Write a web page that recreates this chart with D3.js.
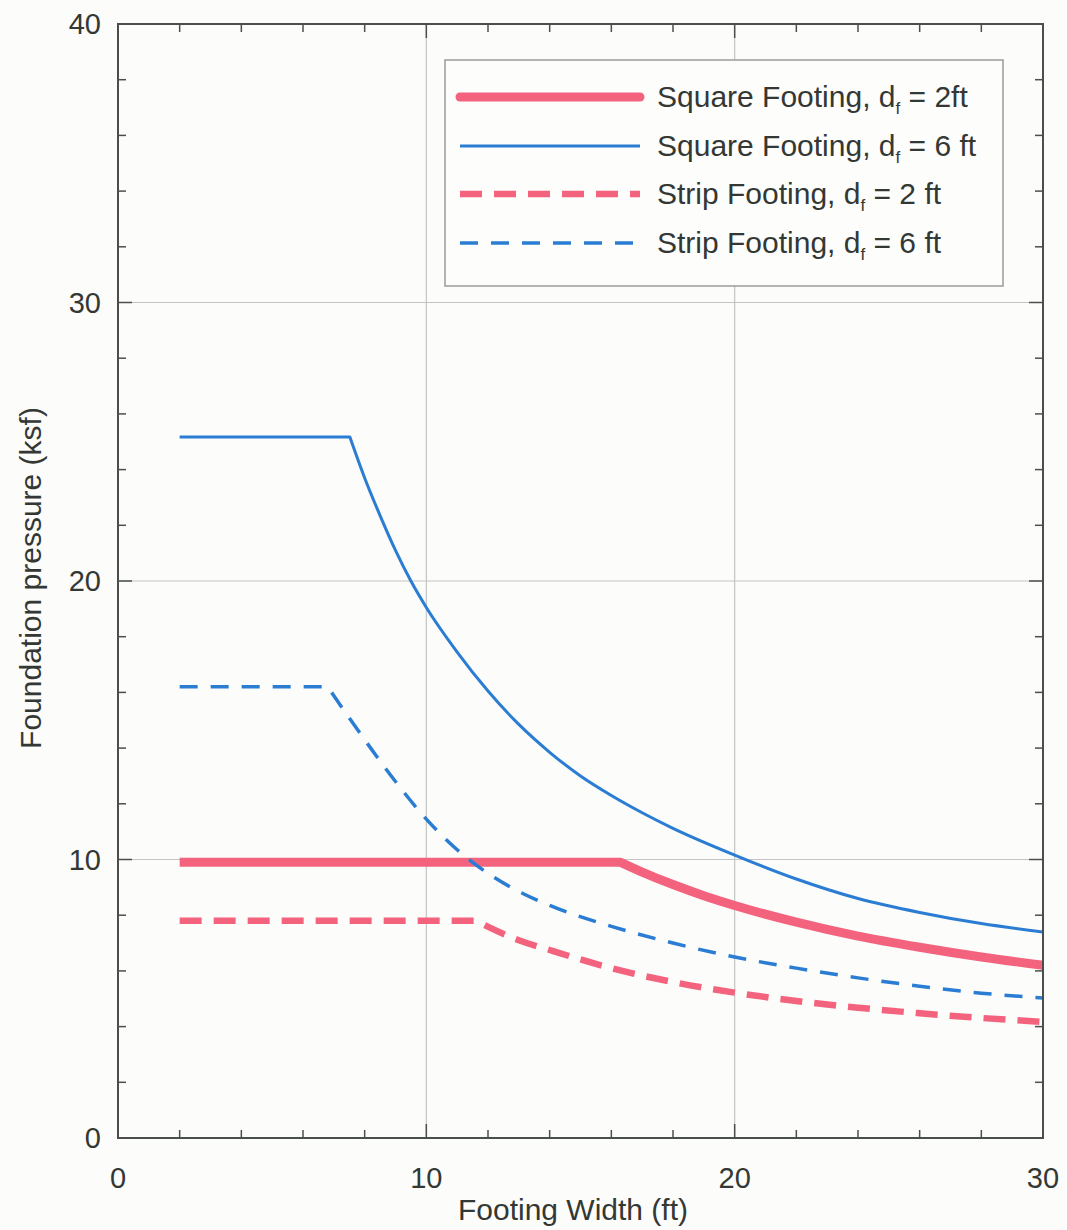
<!DOCTYPE html>
<html>
<head>
<meta charset="utf-8">
<script src="https://cdn.jsdelivr.net/npm/d3@7"></script>
<style>
  html, body { margin: 0; padding: 0; background: #fcfcfa; }
  svg { display: block; font-family: "Liberation Sans", Arial, Helvetica, sans-serif; }
</style>
</head>
<body>
<svg id="chart" width="1067" height="1230"></svg>
<script>
// ---- Data ----
const xTicks = [0, 10, 20, 30];
const yTicks = [0, 10, 20, 30, 40];

// Square footing, df = 2 ft
const sq2Width = [2, 16.3, 17, 18, 19, 20, 22, 24, 26, 28, 30];
const sq2Press = [9.9, 9.9, 9.55, 9.1, 8.7, 8.35, 7.75, 7.25, 6.85, 6.5, 6.2];

// Square footing, df = 6 ft
const sq6Width = [2, 7.52, 8, 8.5, 9, 9.5, 10, 11, 12, 13, 14, 15, 16, 17, 18, 20, 22, 24, 26, 28, 30];
const sq6Press = [25.17, 25.17, 23.7, 22.35, 21.1, 20.0, 19.05, 17.45, 16.05, 14.85, 13.85, 13.0, 12.3, 11.68, 11.12, 10.16, 9.3, 8.6, 8.1, 7.7, 7.4];

// Strip footing, df = 2 ft
const st2Width = [2, 11.6, 13, 14, 16, 18, 20, 22, 24, 26, 28, 30];
const st2Press = [7.8, 7.8, 7.1, 6.75, 6.1, 5.6, 5.22, 4.92, 4.68, 4.48, 4.31, 4.17];

// Strip footing, df = 6 ft
const st6Width = [2, 6.8, 8, 9, 10, 11, 12, 13, 14, 16, 18, 20, 22, 24, 26, 28, 30];
const st6Press = [16.2, 16.2, 14.3, 12.8, 11.45, 10.35, 9.5, 8.85, 8.35, 7.6, 7.0, 6.5, 6.1, 5.75, 5.45, 5.2, 5.03];

const seriesNames = [
  "Square Footing, d|f| = 2ft",
  "Square Footing, d|f| = 6 ft",
  "Strip Footing, d|f| = 2 ft",
  "Strip Footing, d|f| = 6 ft"
];

(function () {
// ---- Layout ----
const svg = d3.select("#chart");
const pL = 118, pR = 1043, pT = 24, pB = 1138;
const x = d3.scaleLinear().domain([0, 30]).range([pL, pR]);
const y = d3.scaleLinear().domain([0, 40]).range([pB, pT]);

const frameColor = "#4a4f4c";
const gridColor = "#c2c4c4";
const textColor = "#333835";
const red = "#f4637d";
const blue = "#2a7dd2";

// grid
const g = svg.append("g");
g.selectAll(".vg").data([10, 20]).join("line")
  .attr("x1", d => x(d)).attr("x2", d => x(d))
  .attr("y1", pT).attr("y2", pB)
  .attr("stroke", gridColor).attr("stroke-width", 1.2);
g.selectAll(".hg").data([10, 20, 30]).join("line")
  .attr("x1", pL).attr("x2", pR)
  .attr("y1", d => y(d)).attr("y2", d => y(d))
  .attr("stroke", gridColor).attr("stroke-width", 1.2);

// ticks (inward) on all four sides
const minorX = d3.range(2, 30, 2).filter(v => v % 10 !== 0);
const minorY = d3.range(2, 40, 2).filter(v => v % 10 !== 0);
const tl = 8;
function ticks(data, f) {
  g.append("g").selectAll("line").data(data).join("line")
    .each(function (d) { const a = f(d); d3.select(this).attr("x1", a[0]).attr("y1", a[1]).attr("x2", a[2]).attr("y2", a[3]); })
    .attr("stroke", frameColor).attr("stroke-width", 1.5);
}
ticks(minorX, d => [x(d), pB, x(d), pB - tl]);
ticks(minorX, d => [x(d), pT, x(d), pT + tl]);
ticks(minorY, d => [pL, y(d), pL + tl, y(d)]);
ticks(minorY, d => [pR, y(d), pR - tl, y(d)]);
const ml = 14;
ticks([10, 20], d => [x(d), pB, x(d), pB - ml]);
ticks([10, 20], d => [x(d), pT, x(d), pT + ml]);
ticks([10, 20, 30], d => [pL, y(d), pL + ml, y(d)]);
ticks([10, 20, 30], d => [pR, y(d), pR - ml, y(d)]);

// tick labels
svg.append("g").selectAll("text").data(xTicks).join("text")
  .attr("x", d => x(d)).attr("y", 1188)
  .attr("text-anchor", "middle")
  .attr("font-size", 29).attr("fill", textColor)
  .text(d => d);
svg.append("g").selectAll("text").data(yTicks).join("text")
  .attr("x", 101).attr("y", d => y(d) + 10)
  .attr("text-anchor", "end")
  .attr("font-size", 29).attr("fill", textColor)
  .text(d => d);

// axis titles
svg.append("text")
  .attr("x", 573).attr("y", 1220)
  .attr("text-anchor", "middle").attr("font-size", 30).attr("fill", textColor)
  .text("Footing Width (ft)");
svg.append("text")
  .attr("transform", "translate(41,578) rotate(-90)")
  .attr("text-anchor", "middle").attr("font-size", 30).attr("fill", textColor)
  .text("Foundation pressure (ksf)");

// ---- Lines ----
const plotG = svg.append("g");
function pathFor(ws, ps) {
  const pts = ws.map((w, i) => [w, ps[i]]);
  const flat = `M${x(pts[0][0])},${y(pts[0][1])}`;
  const curved = d3.line().x(d => x(d[0])).y(d => y(d[1])).curve(d3.curveMonotoneX)(pts.slice(1));
  return flat + "L" + curved.slice(1);
}
const series = [
  { w: sq2Width, p: sq2Press, color: red, width: 9, dash: null },
  { w: sq6Width, p: sq6Press, color: blue, width: 3, dash: null },
  { w: st2Width, p: st2Press, color: red, width: 6.5, dash: "22,12" },
  { w: st6Width, p: st6Press, color: blue, width: 3.5, dash: "18,13" }
];
[2, 0, 3, 1].forEach(i => {
  const s = series[i];
  plotG.append("path")
    .attr("d", pathFor(s.w, s.p))
    .attr("fill", "none")
    .attr("stroke", s.color)
    .attr("stroke-width", s.width)
    .attr("stroke-dasharray", s.dash)
    .attr("stroke-linejoin", "round");
});

// frame
svg.append("rect")
  .attr("x", pL).attr("y", pT)
  .attr("width", pR - pL).attr("height", pB - pT)
  .attr("fill", "none").attr("stroke", frameColor).attr("stroke-width", 2);

// ---- Legend ----
const lg = svg.append("g");
lg.append("rect")
  .attr("x", 445).attr("y", 60).attr("width", 558).attr("height", 226)
  .attr("fill", "#fdfdfc").attr("stroke", "#9a9c9b").attr("stroke-width", 1.5);
const rowY = [97, 146, 194, 243];
series.forEach((s, i) => {
  lg.append("line")
    .attr("x1", 460).attr("x2", 640)
    .attr("y1", rowY[i]).attr("y2", rowY[i])
    .attr("stroke", s.color).attr("stroke-width", s.width)
    .attr("stroke-dasharray", s.dash)
    .attr("stroke-linecap", i === 0 ? "round" : "butt");
  const parts = seriesNames[i].split("|");
  const t = lg.append("text")
    .attr("x", 657).attr("y", rowY[i] + 10)
    .attr("font-size", 30).attr("fill", textColor);
  t.append("tspan").text(parts[0]);
  t.append("tspan").attr("font-size", 17).attr("dy", 7).text(parts[1]);
  t.append("tspan").attr("dy", -7).text(parts[2]);
});
})();
</script>
</body>
</html>
